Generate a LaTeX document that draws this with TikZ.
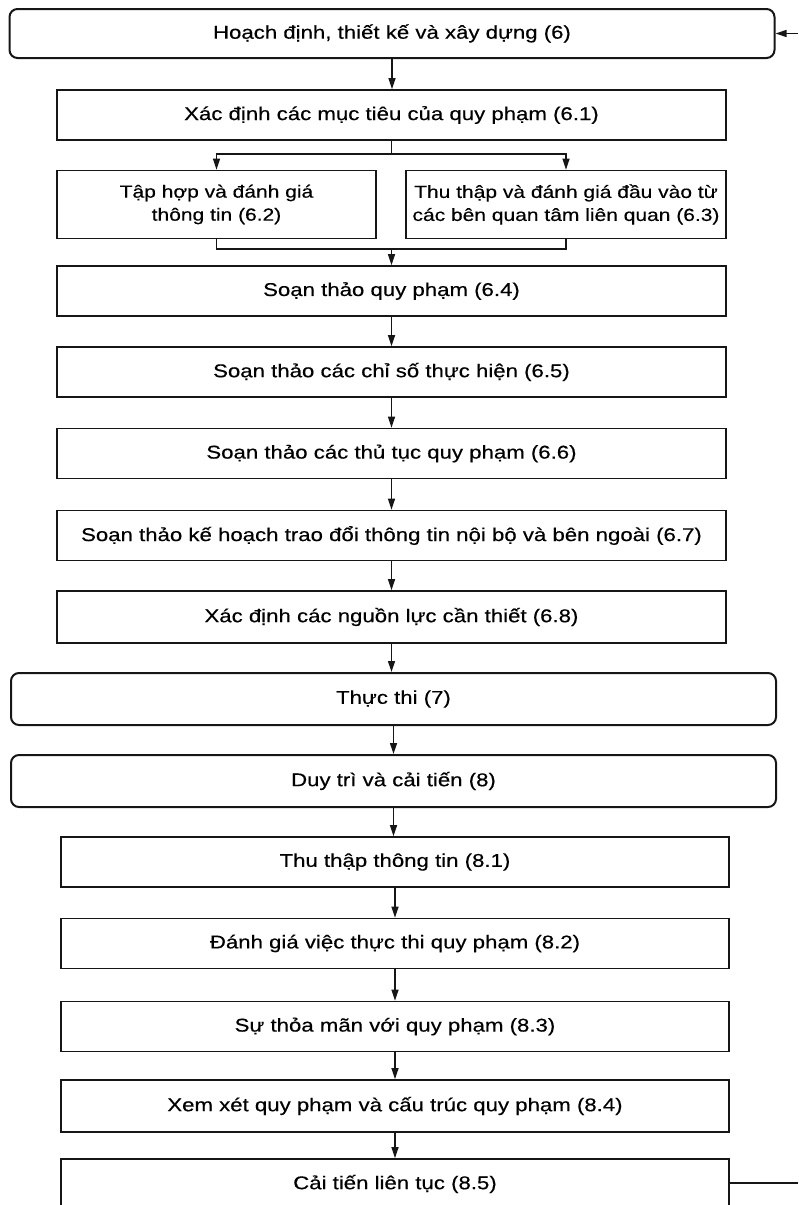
\documentclass[tikz,border=0pt]{standalone}
\usepackage{fontspec}
\setmainfont{Liberation Sans}[FakeStretch=1.2, FakeBold=0.4]
\usepackage{tikz}
\usetikzlibrary{arrows.meta, positioning, calc}
\definecolor{fcInk}{HTML}{161616}

\tikzset{
  stepbox/.style={rectangle, draw=fcInk, line width=1.6pt, align=center,
                  inner sep=0pt, minimum height=50pt},
  pairbox/.style={stepbox, minimum height=68pt, font=\fontsize{17.5}{23}\selectfont},
  phasebox/.style={rectangle, rounded corners=8pt, draw=fcInk, line width=2pt,
                   align=center, inner sep=0pt, minimum width=765pt},
  flow/.style={draw=fcInk, line width=1.3pt, -{Triangle[length=11pt,width=7pt]}},
  link/.style={draw=fcInk, line width=1.3pt}
}

\begin{document}
\begin{tikzpicture}[x=1pt, y=-1pt, font=\fontsize{18.5}{22}\selectfont]
  \clip (0,0) rectangle (798,1205);

  \node[phasebox, minimum height=49pt] (plan) at (392,33.5) {Hoạch định, thiết kế và xây dựng (6)};
  \node[stepbox, minimum width=669pt] (b61) at (391.5,115) {Xác định các mục tiêu của quy phạm (6.1)};
  \node[pairbox, minimum width=319pt] (b62) at (216.5,204.5)
    {Tập hợp và đánh giá\\thông tin (6.2)};
  \node[pairbox, minimum width=320pt] (b63) at (566,204.5)
    {Thu thập và đánh giá đầu vào từ\\các bên quan tâm liên quan (6.3)};
  \node[stepbox, minimum width=669pt] (b64) at (391.5,291) {Soạn thảo quy phạm (6.4)};
  \node[stepbox, minimum width=669pt] (b65) at (391.5,372) {Soạn thảo các chỉ số thực hiện (6.5)};
  \node[stepbox, minimum width=669pt] (b66) at (391.5,453.5) {Soạn thảo các thủ tục quy phạm (6.6)};
  \node[stepbox, minimum width=669pt] (b67) at (391.5,535.5)
    {Soạn thảo kế hoạch trao đổi thông tin nội bộ và bên ngoài (6.7)};
  \node[stepbox, minimum width=669pt, minimum height=52pt] (b68) at (391.5,617) {Xác định các nguồn lực cần thiết (6.8)};

  \node[phasebox, minimum height=52pt] (exec) at (393.5,699) {Thực thi (7)};
  \node[phasebox, minimum height=52pt] (keep) at (393.5,781) {Duy trì và cải tiến (8)};

  \node[stepbox, minimum width=668pt] (b81) at (395,862) {Thu thập thông tin (8.1)};
  \node[stepbox, minimum width=668pt] (b82) at (395,943.5) {Đánh giá việc thực thi quy phạm (8.2)};
  \node[stepbox, minimum width=668pt] (b83) at (395,1026.5) {Sự thỏa mãn với quy phạm (8.3)};
  \node[stepbox, minimum width=668pt, minimum height=52pt] (b84) at (395,1106) {Xem xét quy phạm và cấu trúc quy phạm (8.4)};
  \node[stepbox, minimum width=668pt] (b85) at (395,1184) {Cải tiến liên tục (8.5)};

  \coordinate (split) at (391.5,154);
  \coordinate (merge) at (391.5,249);
  \coordinate (back) at (798,33.5);
  \coordinate (loop) at (798,1183);

  \draw[flow] (plan.south) -- (plan.south |- b61.north);
  \draw[link] (b61.south) -- (split);
  \draw[flow] (split) -| (b62.north);
  \draw[flow] (split) -| (b63.north);
  \draw[link] (b62.south) |- (merge);
  \draw[link] (b63.south) |- (merge);
  \draw[flow] (merge) -- (b64.north);

  \foreach \from/\to in {b64/b65, b65/b66, b66/b67, b67/b68, b68/exec, exec/keep,
                         keep/b81, b81/b82, b82/b83, b83/b84, b84/b85}
    \draw[flow] (\from.south) -- (\from.south |- \to.north);

  \draw[flow] (back) -- (plan.east);
  \draw[link] (b85.east |- loop) -- (loop);
\end{tikzpicture}
\end{document}
